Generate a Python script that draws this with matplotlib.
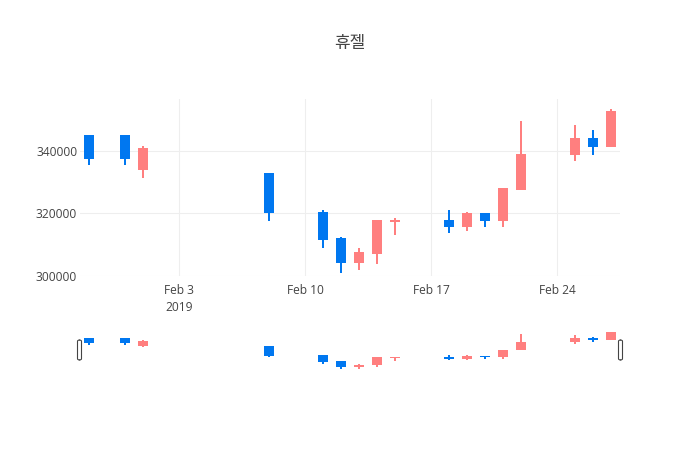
import matplotlib
matplotlib.use("Agg")
import matplotlib.pyplot as plt
import matplotlib.dates as mdates
from matplotlib.patches import FancyBboxPatch
import numpy as np
import datetime as dt

# ---- data ----
dates = ["2019-01-29", "2019-01-31", "2019-02-01", "2019-02-08", "2019-02-11",
         "2019-02-12", "2019-02-13", "2019-02-14", "2019-02-15", "2019-02-18",
         "2019-02-19", "2019-02-20", "2019-02-21", "2019-02-22", "2019-02-25",
         "2019-02-26", "2019-02-27"]
opens  = [345000, 345000, 334000, 333000, 320500, 312000, 304000, 307000, 317200,
          318000, 315500, 320000, 317500, 327500, 338700, 344300, 341400]
highs  = [345000, 345000, 341500, 333000, 321000, 312300, 309000, 318000, 318600,
          321200, 320400, 320000, 328000, 349700, 348400, 346800, 353500]
lows   = [335500, 335500, 331500, 317500, 309000, 300800, 301700, 303800, 313100,
          313800, 314400, 315700, 315700, 327500, 336900, 338700, 341400]
closes = [337500, 337500, 341000, 320000, 311500, 304000, 307500, 317800, 318000,
          315500, 320000, 317500, 328000, 339200, 344300, 341400, 352900]
x_tick_dates = ["2019-02-03", "2019-02-10", "2019-02-17", "2019-02-24"]
x_tick_labels = ["Feb 3\n2019", "Feb 10", "Feb 17", "Feb 24"]
y_ticks = [300000, 320000, 340000]
title = "휴젤"

INC = "#FF7F7F"
DEC = "#0077F0"
TXT = "#444444"
GRID = "#EEEEEE"

xd = mdates.date2num([dt.datetime.strptime(d, "%Y-%m-%d") for d in dates])
o = np.array(opens); h = np.array(highs); l = np.array(lows); c = np.array(closes)
cols = [INC if cc >= oo else DEC for oo, cc in zip(o, c)]
xt = mdates.date2num([dt.datetime.strptime(d, "%Y-%m-%d") for d in x_tick_dates])

xmin = mdates.date2num(dt.datetime(2019, 1, 28, 12))
xmax = mdates.date2num(dt.datetime(2019, 2, 27, 12))
ymin, ymax = 299900, 356700

W, H = 700, 450
fig = plt.figure(figsize=(7, 4.5), dpi=100)

def px_axes(x0, ytop, w, hgt):
    return fig.add_axes([x0 / W, (H - ytop - hgt) / H, w / W, hgt / H])

ax = px_axes(80, 99, 540, 177)
sl = px_axes(80, 329.5, 540, 40.5)

def draw(a):
    a.vlines(xd, l, h, colors=cols, linewidth=1.44, zorder=2)
    bottoms = np.minimum(o, c)
    heights = np.abs(c - o)
    a.bar(xd, heights, bottom=bottoms, width=0.6, color=cols, linewidth=0, zorder=3)
    a.set_xlim(xmin, xmax)
    a.set_ylim(ymin, ymax)
    for s in a.spines.values():
        s.set_visible(False)

draw(ax)
draw(sl)

ax.set_yticks(y_ticks)
ax.set_yticklabels([str(v) for v in y_ticks])
ax.set_xticks(xt)
ax.set_xticklabels(x_tick_labels, linespacing=1.35)
ax.tick_params(axis="both", length=0, labelsize=8.64, colors=TXT)
ax.tick_params(axis="y", pad=2)
ax.tick_params(axis="x", pad=6)
ax.grid(True, color=GRID, linewidth=0.75, zorder=0)
ax.set_axisbelow(True)
for lab in ax.get_xticklabels() + ax.get_yticklabels():
    lab.set_fontfamily(["Open Sans", "DejaVu Sans"])

sl.set_xticks([]); sl.set_yticks([])
sl.patch.set_alpha(0)

# range slider handles
for cx in (79.5, 620.5):
    p = FancyBboxPatch(((cx - 2) / W, (H - 360) / H), 4 / W, 20 / H,
                       boxstyle="round,pad=0,rounding_size=0.003",
                       transform=fig.transFigure, facecolor="white",
                       edgecolor="#444444", linewidth=0.8, zorder=10)
    fig.patches.append(p)

fig.text(0.5, 1 - 43 / H, title, ha="center", va="center", fontsize=12.24,
         color=TXT, family=["Noto Sans CJK KR", "DejaVu Sans"])

fig.savefig("out.png", dpi=100)
